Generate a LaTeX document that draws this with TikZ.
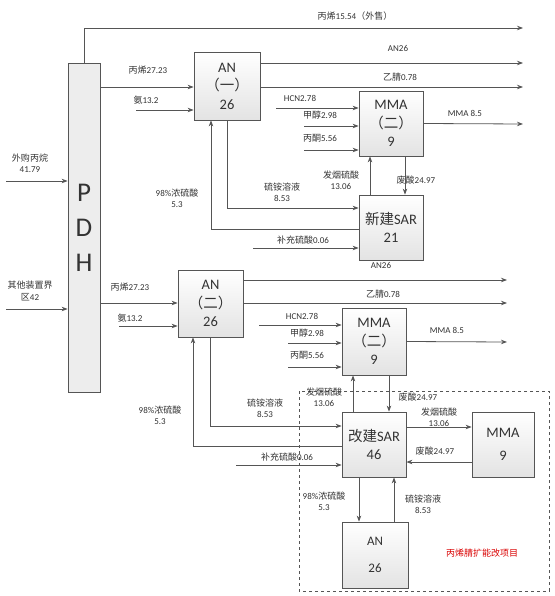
\documentclass[tikz,border=0pt]{standalone}
\usepackage{fontspec}
\setmainfont{Carlito}
\newfontfamily\cjk{Noto Sans CJK SC}
\usetikzlibrary{arrows.meta, positioning}

\definecolor{linegray}{HTML}{555555}
\definecolor{txtgray}{HTML}{333333}

\tikzset{
  unit/.style={draw=linegray, line width=0.8pt, top color=white, bottom color=black!11,
    align=center, text=txtgray, inner sep=0pt, font=\fontsize{14.5}{18.5}\selectfont},
  flow/.style={draw=linegray, line width=0.8pt, -{Stealth[length=6pt,width=4.5pt]}},
  pipe/.style={draw=linegray, line width=0.8pt},
  lbl/.style={font=\fontsize{9}{11.5}\selectfont, text=txtgray, inner sep=0pt, align=center},
}

\begin{document}
\begin{tikzpicture}[x=1pt, y=-1pt]

    % =================================================================
    % 1. Khung hình và các thiết bị
    % =================================================================
    \useasboundingbox (0,0) rectangle (554,596);

    \node[draw=linegray, line width=0.8pt, fill=black!7, text=txtgray, align=center,
          inner sep=0pt, minimum width=32pt, minimum height=329pt,
          font=\fontsize{27}{35}\selectfont] (PDH) at (84,227.5) {P\\D\\H};

    \node[unit, minimum width=66pt, minimum height=68pt] (ANa) at (227,86) {AN\\{\cjk （一）}\\26};
    \node[unit, minimum width=64pt, minimum height=65pt] (MMAa) at (391,123.5) {MMA\\{\cjk （二）}\\9};
    \node[unit, minimum width=64pt, minimum height=65pt] (SARa) at (391,227.5) {{\cjk 新建}SAR\\21};

    \node[unit, minimum width=65pt, minimum height=67pt] (ANb) at (210.5,303.5) {AN\\{\cjk （二）}\\26};
    \node[unit, minimum width=64pt, minimum height=67pt] (MMAb) at (374,341.5) {MMA\\{\cjk （二）}\\9};
    \node[unit, minimum width=64pt, minimum height=65pt] (SARb) at (374,444.5) {{\cjk 改建}SAR\\46};
    \node[unit, minimum width=62pt, minimum height=65pt] (MMAc) at (503,444.5) {MMA\\[4pt]9};
    \node[unit, minimum width=66pt, minimum height=66pt,
          font=\fontsize{13}{18}\selectfont] (ANc) at (375,555) {AN\\[9pt]26};

    % Vùng dự án (nét đứt)
    \draw[dashed, draw=linegray, line width=0.7pt] (299,391) rectangle (549,591);
    \node[lbl, text=red!85!black, font=\fontsize{9}{11}\selectfont] (proj) at (482,553) {\cjk 丙烯腈扩能改项目};

    % =================================================================
    % 2. Các điểm đầu/cuối tự do
    % =================================================================
    \coordinate (sale)  at (523,28);
    \coordinate (buyin) at (6,181);
    \coordinate (other) at (6,309);
    \coordinate (nh3a)  at (136,110);
    \coordinate (hcna)  at (276,108);
    \coordinate (meoha) at (304,126);
    \coordinate (acea)  at (304,150);
    \coordinate (acida) at (253,248);
    \coordinate (nh3b)  at (119,326);
    \coordinate (hcnb)  at (259,325);
    \coordinate (meohb) at (288,343);
    \coordinate (aceb)  at (288,367);
    \coordinate (acidb) at (236,465);

    % =================================================================
    % 3. Dòng vào PDH và dòng bán ra
    % =================================================================
    \draw[flow] (buyin) -- (PDH.west |- buyin);
    \draw[flow] (other) -- (PDH.west |- other);
    \draw[flow] (PDH.north) |- (sale);

    % =================================================================
    % 4. Cụm AN (một) - MMA - SAR mới
    % =================================================================
    \draw[flow] (PDH.east |- 0,87) -- (ANa.west |- 0,87);
    \draw[flow] (nh3a) -- (ANa.west |- nh3a);
    \draw[flow] (ANa.east |- 0,63) -- (523,63);
    \draw[flow] (ANa.east |- 0,87) -- (523,87);

    \draw[flow] (hcna) -- (MMAa.west |- hcna);
    \draw[flow] (meoha) -- (MMAa.west |- meoha);
    \draw[flow] (acea) -- (MMAa.west |- acea);
    \draw[flow] (MMAa.east) -- (523,124);

    \draw[flow] ([xshift=-21pt]SARa.north) -- ([xshift=-21pt]MMAa.south);
    \draw[flow] ([xshift=14pt]MMAa.south) -- ([xshift=14pt]SARa.north);
    \draw[flow] (ANa.south) |- (SARa.west |- 0,208);
    \draw[flow] (SARa.west |- 0,229) -| ([xshift=-16pt]ANa.south);
    \draw[flow] (acida) -- (SARa.west |- acida);

    % =================================================================
    % 5. Cụm AN (hai) - MMA - SAR cải tạo
    % =================================================================
    \draw[flow] (PDH.east |- 0,303) -- (ANb.west |- 0,303);
    \draw[flow] (nh3b) -- (ANb.west |- nh3b);
    \draw[flow] (ANb.east |- 0,280) -- (507,280);
    \draw[flow] (ANb.east |- 0,303) -- (507,303);

    \draw[flow] (hcnb) -- (MMAb.west |- hcnb);
    \draw[flow] (meohb) -- (MMAb.west |- meohb);
    \draw[flow] (aceb) -- (MMAb.west |- aceb);
    \draw[flow] (MMAb.east) -- (507,342);

    \draw[flow] ([xshift=-21pt]SARb.north) -- ([xshift=-21pt]MMAb.south);
    \draw[flow] ([xshift=15pt]MMAb.south) -- ([xshift=15pt]SARb.north);
    \draw[flow] (ANb.south) |- (SARb.west |- 0,426);
    \draw[flow] (SARb.west |- 0,446) -| ([xshift=-17.5pt]ANb.south);
    \draw[flow] (acidb) -- (SARb.west |- acidb);

    \draw[flow] (SARb.east |- 0,427) -- (MMAc.west |- 0,427);
    \draw[flow] (MMAc.west |- 0,462) -- (SARb.east |- 0,462);
    \draw[flow] ([xshift=-15pt]SARb.south) -- ([xshift=-15pt]SARb.south |- ANc.north);
    \draw[flow] ([xshift=20pt]SARb.south |- ANc.north) -- ([xshift=20pt]SARb.south);

    % =================================================================
    % 6. Nhãn dòng
    % =================================================================
    \node[lbl] (tSale)  at (355,16)  {{\cjk 丙烯}15.54{\cjk （外售）}};
    \node[lbl] (tANa)   at (398,48)  {AN26};
    \node[lbl] (tPa)    at (148,70)  {{\cjk 丙烯}27.23};
    \node[lbl] (tNa)    at (146,100) {{\cjk 氨}13.2};
    \node[lbl] (tACNa)  at (400,77)  {{\cjk 乙腈}0.78};
    \node[lbl] (tHCNa)  at (300,98)  {HCN2.78};
    \node[lbl] (tMeOHa) at (320,115) {{\cjk 甲醇}2.98};
    \node[lbl] (tAcea)  at (320,138) {{\cjk 丙酮}5.56};
    \node[lbl] (tMMAa)  at (465,113) {MMA 8.5};
    \node[lbl] (tFSa)   at (341,180) {{\cjk 发烟硫酸}\\13.06};
    \node[lbl] (tWAa)   at (416,180) {{\cjk 废酸}24.97};
    \node[lbl] (tASa)   at (282,192) {{\cjk 硫铵溶液}\\8.53};
    \node[lbl] (tSAa)   at (177,198) {98\%{\cjk 浓硫酸}\\5.3};
    \node[lbl] (tMUa)   at (303,240) {{\cjk 补充硫酸}0.06};
    \node[lbl] (tANb)   at (381,265) {AN26};

    \node[lbl] (tBuy)   at (30,163)  {{\cjk 外购丙烷}\\41.79};
    \node[lbl] (tOther) at (30,291)  {{\cjk 其他装置界}\\{\cjk 区}42};

    \node[lbl] (tPb)    at (130,287) {{\cjk 丙烯}27.23};
    \node[lbl] (tNb)    at (130,318) {{\cjk 氨}13.2};
    \node[lbl] (tACNb)  at (383,294) {{\cjk 乙腈}0.78};
    \node[lbl] (tHCNb)  at (302,316) {HCN2.78};
    \node[lbl] (tMeOHb) at (307,333) {{\cjk 甲醇}2.98};
    \node[lbl] (tAceb)  at (307,355) {{\cjk 丙酮}5.56};
    \node[lbl] (tMMAb)  at (447,330) {MMA 8.5};
    \node[lbl] (tFSb)   at (324,397) {{\cjk 发烟硫酸}\\13.06};
    \node[lbl] (tWAb)   at (418,397) {{\cjk 废酸}24.97};
    \node[lbl] (tASb)   at (265,408) {{\cjk 硫铵溶液}\\8.53};
    \node[lbl] (tSAb)   at (160,415) {98\%{\cjk 浓硫酸}\\5.3};
    \node[lbl] (tMUb)   at (287,457) {{\cjk 补充硫酸}0.06};
    \node[lbl] (tFSc)   at (439,417) {{\cjk 发烟硫酸}\\13.06};
    \node[lbl] (tWAc)   at (435,451) {{\cjk 废酸}24.97};
    \node[lbl] (tSAc)   at (324,501) {98\%{\cjk 浓硫酸}\\5.3};
    \node[lbl] (tASc)   at (423,504) {{\cjk 硫铵溶液}\\8.53};

\end{tikzpicture}
\end{document}
